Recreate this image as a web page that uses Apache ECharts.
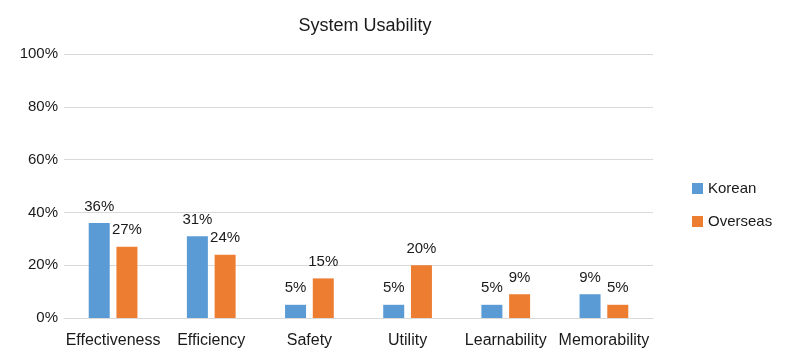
<!DOCTYPE html>
<html>
<head>
<meta charset="utf-8">
<script src="https://cdn.jsdelivr.net/npm/echarts@6/dist/echarts.min.js"></script>
<style>html,body{margin:0;padding:0;background:#fff}#c{width:789px;height:363px}</style>
</head>
<body>
<div id="c"></div>
<script>
var categories = ['Effectiveness', 'Efficiency', 'Safety', 'Utility', 'Learnability', 'Memorability'];
var korean = [36, 31, 5, 5, 5, 9];
var overseas = [27, 24, 15, 20, 9, 5];
var yTicks = [0, 20, 40, 60, 80, 100];

var font = 'Liberation Sans';
var txt = '#1a1a1a';
var chart = echarts.init(document.getElementById('c'), null, {renderer: 'canvas'});
var labelCfg = {show: true, position: 'top', distance: 9, color: txt, fontSize: 15, fontFamily: font, formatter: function (p) { return p.value + '%'; }};
chart.setOption({
  animation: false,
  textStyle: {fontFamily: font},
  title: {text: 'System Usability', left: 360, textAlign: 'center', top: 12,
    textStyle: {fontSize: 18, fontWeight: 'normal', color: txt, fontFamily: font}},
  grid: {left: 64, right: 136, top: 54, bottom: 45, containLabel: false},
  legend: {orient: 'vertical', left: 687, top: 176, itemWidth: 11, itemHeight: 11, itemGap: 18,
    icon: 'rect', textStyle: {fontSize: 15, color: txt, fontFamily: font}, data: ['Korean', 'Overseas']},
  xAxis: {type: 'category', data: categories,
    axisLine: {lineStyle: {color: '#d9d9d9'}}, axisTick: {show: false},
    axisLabel: {color: txt, fontSize: 16, fontFamily: font, margin: 15, interval: 0}},
  yAxis: {type: 'value', min: yTicks[0], max: yTicks[yTicks.length - 1], interval: 20,
    axisLine: {show: false}, axisTick: {show: false},
    splitLine: {lineStyle: {color: '#d9d9d9'}},
    axisLabel: {color: txt, fontSize: 15, fontFamily: font, margin: 6, formatter: '{value}%'}},
  series: [
    {name: 'Korean', type: 'bar', data: korean, barWidth: 21, barGap: '32%', itemStyle: {color: '#5b9bd5'}, label: labelCfg},
    {name: 'Overseas', type: 'bar', data: overseas, barWidth: 21, itemStyle: {color: '#ed7d31'}, label: labelCfg}
  ]
});
</script>
</body>
</html>
